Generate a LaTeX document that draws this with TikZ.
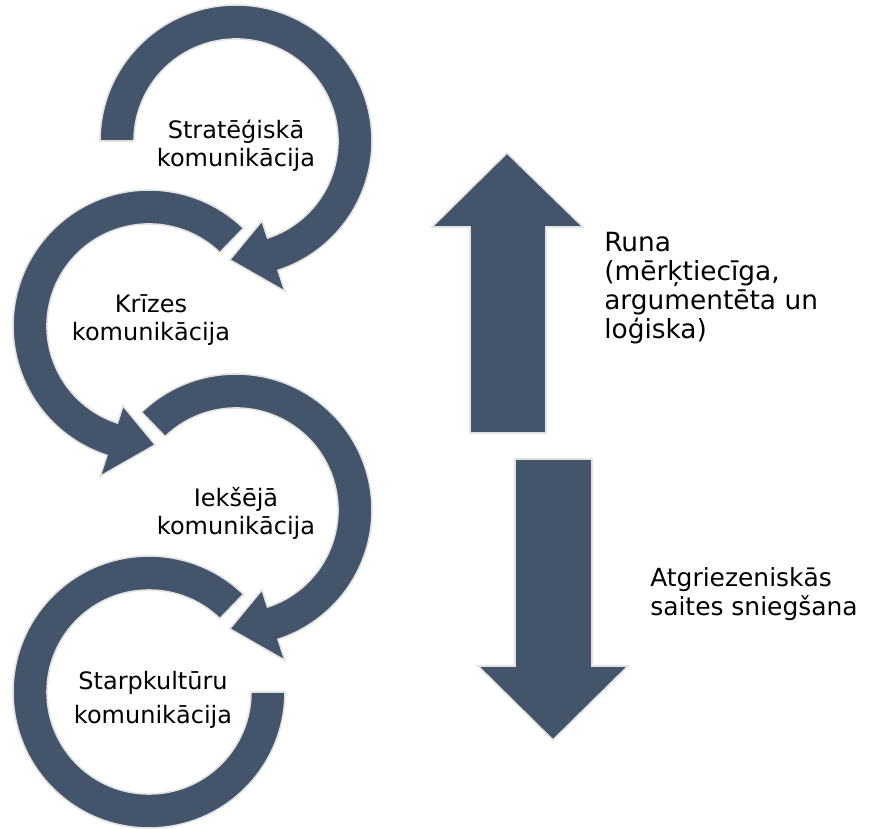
\documentclass[tikz,border=0pt]{standalone}
\usepackage{fontspec}
\setmainfont{DejaVu Sans}
\usetikzlibrary{calc}
\definecolor{slate}{RGB}{68,84,106}
\definecolor{rim}{RGB}{226,226,226}

\begin{document}
\begin{tikzpicture}[x=0.75pt,y=0.75pt,
	band/.style={fill=slate,draw=rim,line width=1.2pt},
	ringtext/.style={font=\fontsize{18}{21}\selectfont,align=center},
	side/.style={align=left,anchor=west,inner sep=0pt}]
	\useasboundingbox (0,0) rectangle (873,828);
	\coordinate (c1) at (236,687);
	\coordinate (c2) at (149,502);
	\coordinate (c3) at (236,318);
	\coordinate (c4) at (149,136);
	
	% ring arrows: centre / start / head base / tip
	\foreach \cen/\from/\base/\tip in {c1/180/-72/-93,c2/46/252/273,c3/134/-72/-93}
		\draw[band] ($(\cen)+(\from:136)$) arc[start angle=\from,end angle=\base,radius=136]
			-- ($(\cen)+(\base:158)$) -- ($(\cen)+(\tip:119)$) -- ($(\cen)+(\base:84)$)
			-- ($(\cen)+(\base:102)$) arc[start angle=\base,end angle=\from,radius=102] -- cycle;
	\draw[band] ($(c4)+(46:136)$) arc[start angle=46,end angle=360,radius=136]
		-- ($(c4)+(0:102)$) arc[start angle=360,end angle=46,radius=102] -- cycle;
	
	\node[ringtext] (strat) at ($(c1)+(0,-5)$) {Stratēģiskā\\komunikācija};
	\node[ringtext] (krize) at ($(c2)+(2,6)$) {Krīzes\\komunikācija};
	\node[ringtext] (ieks) at ($(c3)+(0,-3)$) {Iekšējā\\komunikācija};
	\node[ringtext,font=\fontsize{18}{26}\selectfont] (starp) at ($(c4)+(4,-8)$) {Starpkultūru\\komunikācija};
	
	% up and down block arrows
	\draw[band] (470,395) -- (470,601) -- (432,601) -- (507,675) -- (583,601) -- (546,601) -- (546,395) -- cycle;
	\draw[band] (515,369) -- (515,162) -- (478,162) -- (553,88) -- (628,162) -- (592,162) -- (592,369) -- cycle;
	
	\node[side,font=\fontsize{19.8}{21.7}\selectfont] (runa) at (604,540) {Runa\\(mērķtiecīga,\\argumentēta un\\loģiska)};
	\node[side,font=\fontsize{18.7}{21.7}\selectfont] (saite) at (650,234) {Atgriezeniskās\\saites sniegšana};
\end{tikzpicture}
\end{document}
